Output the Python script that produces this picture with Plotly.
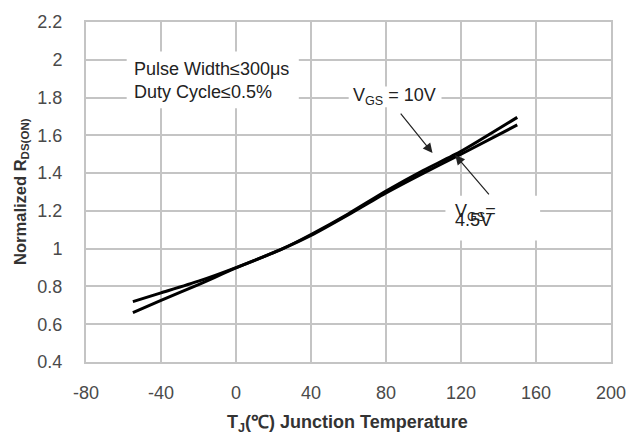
import plotly.graph_objects as go

# Data
temps = [-55, -40, -20, 0, 25, 40, 60, 80, 100, 120, 150]
rds_vgs10 = [0.720, 0.766, 0.828, 0.900, 1.000, 1.070, 1.180, 1.295, 1.400, 1.500, 1.655]
rds_vgs45 = [0.662, 0.726, 0.810, 0.898, 1.000, 1.075, 1.185, 1.305, 1.415, 1.515, 1.695]

x_ticks = [-80, -40, 0, 40, 80, 120, 160, 200]
x_tick_text = ["-80", "-40", "0", "40", "80", "120", "160", "200"]
y_ticks = [0.4, 0.6, 0.8, 1.0, 1.2, 1.4, 1.6, 1.8, 2.0, 2.2]
y_tick_text = ["0.4", "0.6", "0.8", "1", "1.2", "1.4", "1.6", "1.8", "2", "2.2"]

FONT = "Liberation Sans, Arial, sans-serif"
GRID = "#c4c4c4"

fig = go.Figure()
for ys in (rds_vgs10, rds_vgs45):
    fig.add_trace(go.Scatter(x=temps, y=ys, mode="lines",
                             line=dict(color="black", width=3, shape="spline", smoothing=0.6),
                             showlegend=False, hoverinfo="skip"))

# white boxes behind labels (cover gridlines)
boxes = [(-58.3, 1.743, 33.5, 2.044), (60.1, 1.749, 109.6, 1.859), (111.7, 1.043, 162.2, 1.28)]
for x0, y0, x1, y1 in boxes:
    fig.add_shape(type="rect", x0=x0, x1=x1, y0=y0, y1=y1, xref="x", yref="y",
                  fillcolor="white", line=dict(width=0), layer="between")

ann_font = dict(family=FONT, size=18, color="#222222")
fig.add_annotation(x=-55.3, y=1.89, xref="x", yref="y", xanchor="left", yanchor="middle",
                   text="Pulse Width≤300μs<br>Duty Cycle≤0.5%", showarrow=False,
                   align="left", font=ann_font)
fig.add_annotation(x=84.5, y=1.807, xref="x", yref="y", xanchor="center", yanchor="middle",
                   text="V<sub>GS</sub> = 10V", showarrow=False, font=ann_font)
fig.add_annotation(x=115.5, y=1.19, xref="x", yref="y", xanchor="left", yanchor="middle",
                   text="V<sub>GS</sub>=", showarrow=False, font=ann_font)
fig.add_annotation(x=115.5, y=1.15, xref="x", yref="y", xanchor="left", yanchor="middle",
                   text="4.5V", showarrow=False, font=ann_font)

# arrows
fig.add_annotation(x=104.8, y=1.506, xref="x", yref="y", ax=-33, ay=-41, text="",
                   showarrow=True, arrowhead=2, arrowsize=1.6, arrowwidth=1.2, arrowcolor="#222222")
fig.add_annotation(x=116.9, y=1.496, xref="x", yref="y", ax=35, ay=41, text="",
                   showarrow=True, arrowhead=2, arrowsize=1.6, arrowwidth=1.2, arrowcolor="#222222")

# axis titles
fig.add_annotation(x=0.498, y=-0.181, xref="paper", yref="paper", xanchor="center", yanchor="middle",
                   text="<b>T<sub>J</sub>(℃) Junction Temperature</b>", showarrow=False,
                   font=dict(family=FONT, size=18, color="#333333"))
fig.add_annotation(x=-0.124, y=0.503, xref="paper", yref="paper", xanchor="center", yanchor="middle",
                   text="<b>Normalized R<sub>DS(ON)</sub></b>", showarrow=False, textangle=-90,
                   font=dict(family=FONT, size=16.5, color="#333333"))

fig.update_xaxes(range=[-80, 200], tickvals=x_ticks, ticktext=x_tick_text, showgrid=True,
                 gridcolor=GRID, gridwidth=2,
                 zeroline=False, showline=True, linecolor=GRID, linewidth=2, mirror=True,
                 ticks="", ticklabelstandoff=13,
                 tickfont=dict(family=FONT, size=18, color="#4a4a4a"))
fig.update_yaxes(range=[0.4, 2.2], tickvals=y_ticks, ticktext=y_tick_text, showgrid=True,
                 gridcolor=GRID, gridwidth=2, zeroline=False, showline=True, linecolor=GRID,
                 linewidth=2, mirror=True, ticks="", ticklabelstandoff=18,
                 tickfont=dict(family=FONT, size=18, color="#4a4a4a"))

fig.update_layout(width=638, height=434, margin=dict(l=86, r=20, t=20, b=72),
                  plot_bgcolor="white", paper_bgcolor="white")

fig.write_html("out.html", config={"displayModeBar": False},
               post_script="document.body.style.margin='0';document.body.style.overflow='hidden';")
